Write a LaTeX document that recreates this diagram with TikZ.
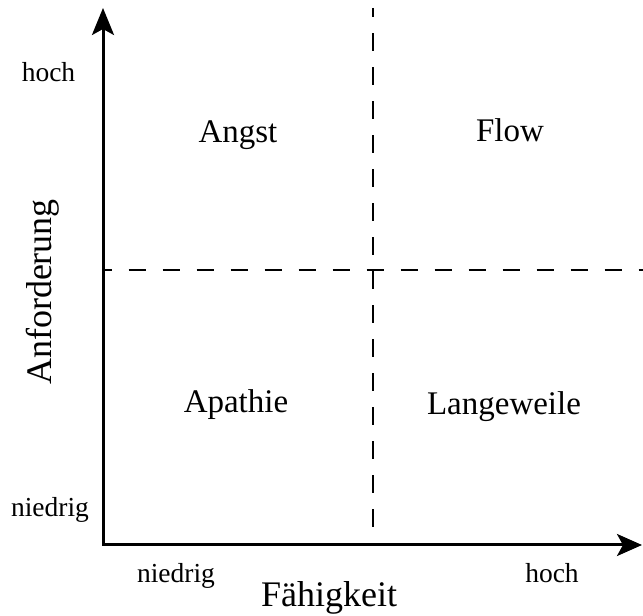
\documentclass[tikz,border=0pt]{standalone}
\usepackage{fontspec}
\setmainfont{Liberation Serif}
\usetikzlibrary{arrows.meta}

\begin{document}
\begin{tikzpicture}[x=1pt,y=1pt,
  axisline/.style={line width=3pt, line join=miter,
    {Stealth[length=27pt,width=22pt,inset=6pt]}-{Stealth[length=25pt,width=22pt,inset=6pt]}},
  divider/.style={line width=2.6pt, dash pattern=on 17.5pt off 16.5pt, dash phase=8.5pt},
  quad/.style={font=\fontsize{33}{40}\selectfont, anchor=base},
  ticklabel/.style={font=\fontsize{27.5}{33}\selectfont, anchor=base},
  axistitle/.style={font=\fontsize{36}{43}\selectfont, anchor=base}]
\useasboundingbox (0,0) rectangle (643,616);

% axis frame
\coordinate (O) at (103,71);
\coordinate (ytip) at (103,608);
\coordinate (xtip) at (642,71);

% quadrant dividers
\coordinate (vtop) at (373,608);
\coordinate (vbot) at (373,71);
\coordinate (hleft) at (103,346);
\coordinate (hright) at (643,346);
\draw[divider] (vtop) -- (vbot);
\draw[divider] (hleft) -- (hright);

\draw[axisline] (ytip) -- (O) -- (xtip);

% quadrant labels
\node[quad] (angst) at (238,473) {Angst};
\node[quad] (flow) at (510,474) {Flow};
\node[quad] (apathie) at (236,203) {Apathie};
\node[quad] (langeweile) at (504,201) {Langeweile};

% scale labels
\node[ticklabel] (yhigh) at (48.5,534) {hoch};
\node[ticklabel] (ylow) at (50,99) {niedrig};
\node[ticklabel] (xlow) at (176,33) {niedrig};
\node[ticklabel] (xhigh) at (552,33) {hoch};

% axis titles
\node[axistitle] (xtitle) at (329,9) {Fähigkeit};
\node[axistitle, rotate=90] (ytitle) at (51,324) {Anforderung};
\end{tikzpicture}
\end{document}
